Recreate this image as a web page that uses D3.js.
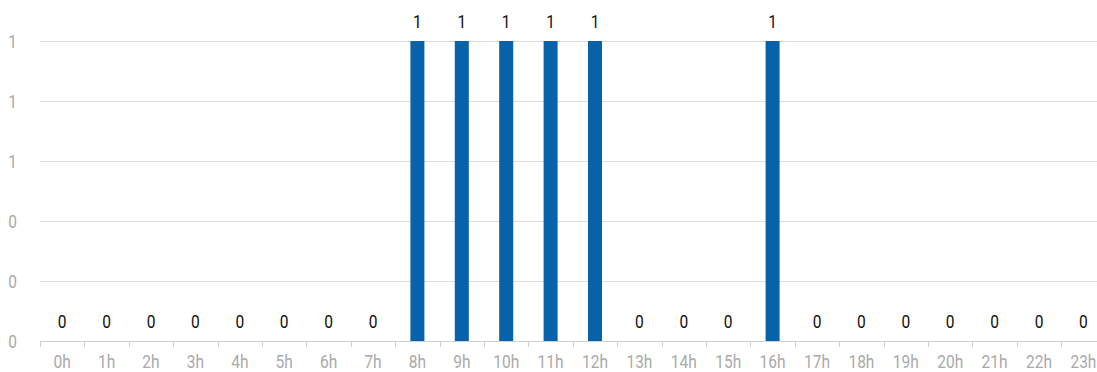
<!DOCTYPE html>
<html><head><meta charset="utf-8">
<script src="https://cdn.jsdelivr.net/npm/d3@7"></script>
<style>body{margin:0;background:#fff;} text{font-family:"Roboto",sans-serif;}</style>
</head><body><svg id="c" width="1097" height="372"></svg>
<script>
const categories = ["0h","1h","2h","3h","4h","5h","6h","7h","8h","9h","10h","11h","12h","13h","14h","15h","16h","17h","18h","19h","20h","21h","22h","23h"];
const values = [0,0,0,0,0,0,0,0,1,1,1,1,1,0,0,0,1,0,0,0,0,0,0,0];
const yTicks = [0,0.2,0.4,0.6,0.8,1];

(function(){
const svg = d3.select("#c");
const mLeft = 40, mTop = 41, mBottom = 341, bandW = 44.4;
const sx = 0.84, fs = 18.5;
const x = d3.scaleBand().domain(categories).range([mLeft, mLeft + bandW*categories.length]).padding(0);
const y = d3.scaleLinear().domain([0,1]).range([mBottom, mTop]);
const pos = (px, py) => `translate(${px},${py}) scale(${sx},1)`;

svg.append("g").selectAll("line").data(yTicks).join("line")
  .attr("x1", mLeft).attr("x2", 1097)
  .attr("y1", d => Math.round(y(d))+0.5).attr("y2", d => Math.round(y(d))+0.5)
  .attr("stroke", "#dcdcdc").attr("stroke-width", 1);

svg.append("g").selectAll("text").data(yTicks).join("text")
  .attr("transform", d => pos(17, y(d))).attr("dy","0.36em")
  .attr("text-anchor","end").attr("fill","#aaaaaa").attr("font-size",fs)
  .text(d => d3.format(".0f")(d));

const xa = svg.append("g").attr("transform", `translate(0,${mBottom})`);
xa.append("line").attr("x1", mLeft).attr("x2", 1097).attr("y1",0.5).attr("y2",0.5).attr("stroke","#d0d0d0");
xa.selectAll("line.t").data(categories).join("line").attr("class","t")
  .attr("x1", d => Math.round(x(d))+0.5).attr("x2", d => Math.round(x(d))+0.5).attr("y1",0).attr("y2",6)
  .attr("stroke","#d0d0d0");
xa.selectAll("text").data(categories).join("text")
  .attr("transform", d => pos(x(d) + x.bandwidth()/2, 20)).attr("dy","0.36em")
  .attr("text-anchor","middle").attr("fill","#aaaaaa").attr("font-size",fs)
  .text(d => d);

const barW = 14;
svg.append("g").selectAll("rect").data(values).join("rect")
  .attr("x", (d,i) => x(categories[i]) + x.bandwidth()/2 - barW/2)
  .attr("y", d => y(d)).attr("width", barW).attr("height", d => mBottom - y(d))
  .attr("fill", "#0762a9");

svg.append("g").selectAll("text").data(values).join("text")
  .attr("transform", (d,i) => pos(x(categories[i]) + x.bandwidth()/2, y(d) - 20)).attr("dy","0.36em")
  .attr("text-anchor","middle").attr("fill","#111").attr("font-size",fs)
  .text(d => d);
})();
</script></body></html>
